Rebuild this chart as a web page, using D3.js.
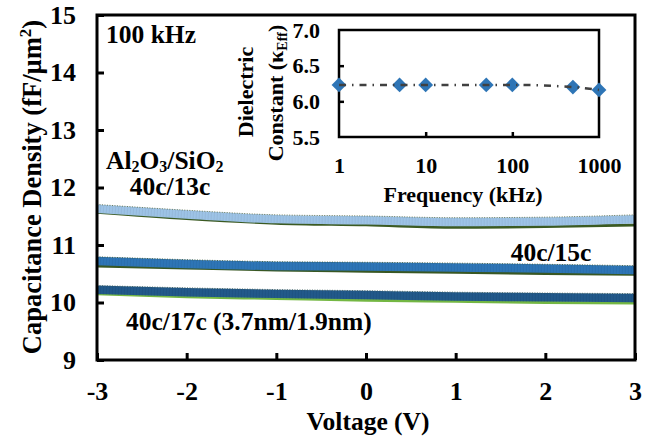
<!DOCTYPE html>
<html>
<head>
<meta charset="utf-8">
<style>
	body { margin: 0; background: #fff; }
	svg { display: block; }
	svg text { font-family: "Liberation Serif", "Times New Roman", serif; font-weight: bold; fill: #000; }
</style>
</head>
<body>
<div id="chart"></div>
<script src="https://d3js.org/d3.v7.min.js"></script>
<script>
	// main C-V data
	var voltage = [-3, -2, -1, 0, 1, 2, 3];
	var cap13 = [11.63, 11.53, 11.45, 11.43, 11.40, 11.41, 11.45];
	var cap13fit = [11.57, 11.46, 11.38, 11.35, 11.31, 11.32, 11.35];
	var cap15 = [10.72, 10.67, 10.635, 10.625, 10.61, 10.59, 10.565];
	var cap15fit = [10.635, 10.60, 10.565, 10.545, 10.525, 10.505, 10.49];
	var cap17 = [10.22, 10.18, 10.15, 10.13, 10.105, 10.09, 10.08];
	var cap17fit = [10.15, 10.10, 10.07, 10.04, 10.02, 10.00, 9.99];
	var xTicks = [-3, -2, -1, 0, 1, 2, 3];
	var yTicks = [9, 10, 11, 12, 13, 14, 15];

	// inset: dielectric constant vs frequency
	var freq = [1, 5, 10, 50, 100, 500, 1000];
	var kEff = [6.23, 6.23, 6.23, 6.23, 6.23, 6.20, 6.16];
	var insetXTicks = [1, 10, 100, 1000];
	var insetYTicks = [5.5, 6.0, 6.5, 7.0];

	var W = 652, H = 443;
	var svg = d3.select('#chart').append('svg')
		.attr('width', W)
		.attr('height', H)

	var x = d3.scaleLinear().domain([-3, 3]).range([97, 635])
	var y = d3.scaleLinear().domain([9, 15]).range([360, 15])

	var series = [
		{ key: 's13', band: cap13, fit: cap13fit, color: '#9dc3e6', edge: '#5d6e48', fitColor: '#3b5a22' },
		{ key: 's15', band: cap15, fit: cap15fit, color: '#2e75b6', edge: '#3d5a3a', fitColor: '#385723' },
		{ key: 's17', band: cap17, fit: cap17fit, color: '#22598a', edge: '#3f5f5a', fitColor: '#74b743' }
	];

	var line = d3.line()
		.x((d, i) => x(voltage[i]))
		.y(d => y(d))
		.curve(d3.curveMonotoneX)

	var g = svg.append('g')

	series.forEach(s => {
		g.append('path')
			.attr('d', line(s.fit))
			.attr('fill', 'none')
			.attr('stroke', s.fitColor)
			.attr('stroke-width', 3)
		g.append('path')
			.attr('d', line(s.band))
			.attr('fill', 'none')
			.attr('stroke', s.color)
			.attr('stroke-width', 8.5)
		// marker texture
		g.append('path')
			.attr('d', line(s.band))
			.attr('fill', 'none')
			.attr('stroke', d3.color(s.color).darker(0.5))
			.attr('stroke-width', 8.5)
			.attr('stroke-dasharray', '1,2')
			.attr('opacity', 0.3)
		// dotted top edge
		g.append('path')
			.attr('d', line(s.band))
			.attr('transform', 'translate(0,-4.3)')
			.attr('fill', 'none')
			.attr('stroke', s.edge)
			.attr('stroke-width', 0.9)
			.attr('stroke-dasharray', '1,1.5')
	})

	var fmt = d => String(d)

	// main axes
	svg.append('g')
		.attr('transform', 'translate(97,0)')
		.call(d3.axisLeft(y).tickValues(yTicks).tickSize(-7).tickPadding(21).tickFormat(fmt))
		.call(a => {
			a.attr('font-family', null).attr('font-size', null)
			a.select('.domain').remove()
			a.selectAll('line').attr('stroke', '#000').attr('stroke-width', 3)
			a.selectAll('text').style('font-size', '26px')
		})
	svg.append('g')
		.attr('transform', 'translate(0,360)')
		.call(d3.axisBottom(x).tickValues(xTicks).tickSize(-7).tickPadding(22).tickFormat(fmt))
		.call(a => {
			a.attr('font-family', null).attr('font-size', null)
			a.select('.domain').remove()
			a.selectAll('line').attr('stroke', '#000').attr('stroke-width', 3)
			a.selectAll('text').style('font-size', '26px')
		})
	svg.append('rect')
		.attr('x', 97).attr('y', 15)
		.attr('width', 635 - 97).attr('height', 360 - 15)
		.attr('fill', 'none')
		.attr('stroke', '#000')
		.attr('stroke-width', 3)

	svg.append('text')
		.attr('text-anchor', 'middle')
		.attr('x', 368).attr('y', 430)
		.style('font-size', '25.5px')
		.text('Voltage (V)')
	var yt = svg.append('text')
		.attr('text-anchor', 'middle')
		.attr('transform', 'translate(41,187) rotate(-90)')
		.style('font-size', '26.5px')
	yt.append('tspan').text('Capacitance Density (fF/µm')
	yt.append('tspan').text('2').style('font-size', '17px').attr('dy', -10)
	yt.append('tspan').text(')').attr('dy', 10)

	// annotations
	svg.append('text').attr('x', 106).attr('y', 43).style('font-size', '25.5px').text('100 kHz')
	var al = svg.append('text').attr('x', 106).attr('y', 169).style('font-size', '25.5px')
	al.append('tspan').text('Al')
	al.append('tspan').text('2').style('font-size', '16px').attr('dy', 3)
	al.append('tspan').text('O').attr('dy', -3)
	al.append('tspan').text('3').style('font-size', '16px').attr('dy', 3)
	al.append('tspan').text('/SiO').attr('dy', -3)
	al.append('tspan').text('2').style('font-size', '16px').attr('dy', 3)
	svg.append('text').attr('x', 170).attr('y', 195).style('font-size', '25.5px').attr('text-anchor', 'middle').text('40c/13c')
	svg.append('text').attr('x', 551).attr('y', 261).style('font-size', '25.5px').attr('text-anchor', 'middle').text('40c/15c')
	svg.append('text').attr('x', 126).attr('y', 330).style('font-size', '25.5px').text('40c/17c (3.7nm/1.9nm)')

	// inset
	var ix = d3.scaleLog().domain([1, 1000]).range([339, 599])
	var iy = d3.scaleLinear().domain([5.5, 7.0]).range([137, 30])

	var inset = svg.append('g')
	inset.append('g')
		.attr('transform', 'translate(339,0)')
		.call(d3.axisLeft(iy).tickValues(insetYTicks).tickSize(-5).tickPadding(19).tickFormat(d3.format('.1f')))
		.call(a => {
			a.attr('font-family', null).attr('font-size', null)
			a.select('.domain').remove()
			a.selectAll('line').attr('stroke', '#000').attr('stroke-width', 2.5)
			a.selectAll('.tick').filter(d => d == 5.5 || d == 7.0).select('line').remove()
			a.selectAll('text').style('font-size', '22px')
		})
	inset.append('g')
		.attr('transform', 'translate(0,137)')
		.call(d3.axisBottom(ix).tickValues(insetXTicks).tickSize(-5).tickPadding(20).tickFormat(fmt))
		.call(a => {
			a.attr('font-family', null).attr('font-size', null)
			a.select('.domain').remove()
			a.selectAll('line').attr('stroke', '#000').attr('stroke-width', 2.5)
			a.selectAll('.tick').filter(d => d == 1 || d == 1000).select('line').remove()
			a.selectAll('text').style('font-size', '22px')
		})
	inset.append('rect')
		.attr('x', 339).attr('y', 30)
		.attr('width', 599 - 339).attr('height', 137 - 30)
		.attr('fill', 'none')
		.attr('stroke', '#000')
		.attr('stroke-width', 2.5)

	inset.selectAll('path.pt')
		.data(freq)
		.enter().append('path')
		.attr('class', 'pt')
		.attr('d', d3.symbol(d3.symbolSquare, 110))
		.attr('transform', (d, i) => 'translate(' + ix(d) + ',' + iy(kEff[i]) + ') rotate(45)')
		.attr('fill', '#2e75b6')

	inset.append('path')
		.attr('d', d3.line().x((d, i) => ix(freq[i])).y(d => iy(d)).curve(d3.curveMonotoneX)(kEff))
		.attr('fill', 'none')
		.attr('stroke', '#404040')
		.attr('stroke-width', 2.5)
		.attr('stroke-dasharray', '7,6,1.5,6')

	inset.append('text')
		.attr('text-anchor', 'middle')
		.attr('x', 463).attr('y', 202)
		.style('font-size', '22px')
		.text('Frequency (kHz)')
	inset.append('text')
		.attr('text-anchor', 'middle')
		.attr('transform', 'translate(253,92) rotate(-90)')
		.style('font-size', '22px')
		.text('Dielectric')
	var kt = inset.append('text')
		.attr('text-anchor', 'middle')
		.attr('transform', 'translate(283,93) rotate(-90)')
		.style('font-size', '22px')
	kt.append('tspan').text('Constant (κ')
	kt.append('tspan').text('Eff').style('font-size', '14px').attr('dy', 4)
	kt.append('tspan').text(')').attr('dy', -4)
</script>
</body>
</html>
